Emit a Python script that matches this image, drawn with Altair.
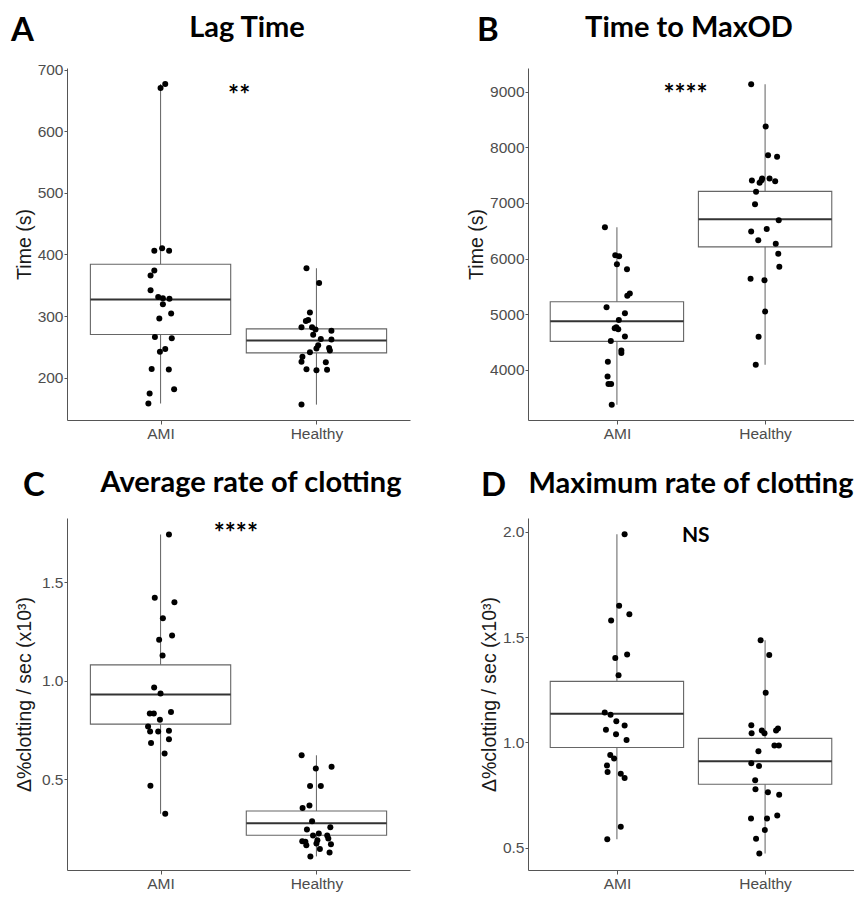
import altair as alt
import pandas as pd

GROUPS = ["AMI", "Healthy"]

# ---------------- Panel A : Lag Time (s) ----------------
A_AMI = [670.6, 677, 406, 410, 406, 374, 366, 342, 331, 329, 328, 319, 296, 304,
         266, 264, 242, 246.5, 214, 213, 174, 181, 158]
A_AMI_JIT = [0.0, 0.03, -0.04, 0.01, 0.055, -0.04, -0.064, -0.064, -0.015, 0.015, 0.057,
             0.015, -0.008, 0.068, -0.036, 0.072, -0.004, 0.03, -0.057, 0.053, -0.07, 0.087, -0.078]
A_HEA = [377.6, 353.5, 305.8, 293.5, 292, 281.8, 281.8, 278, 275.9, 269.4, 262.5, 262,
         252.4, 247, 248, 243.8, 241, 233.7, 225.6, 225, 213.3, 211.7, 212.8, 156]
A_HEA_JIT = [-0.064, 0.017, -0.042, -0.053, -0.068, -0.096, -0.028, -0.006, 0.096, -0.021,
             0.028, 0.096, 0.011, 0.0, 0.081, 0.086, -0.042, -0.09, -0.096, 0.06, -0.064,
             0.0, 0.068, -0.096]
A_Q1 = [270, 240]
A_MED = [327, 260]
A_Q3 = [384, 279]

# ---------------- Panel B : Time to MaxOD (s) ----------------
B_AMI = [6565, 6057, 6039, 5897, 5809, 5371, 5330, 5123, 5017, 4892, 4762, 4745, 4727,
         4597, 4514, 4343, 4301, 4142, 3876, 3740, 3740, 3368]
B_AMI_JIT = [-0.081, -0.011, 0.015, 0.0, 0.068, 0.087, 0.07, -0.07, 0.054, 0.013, -0.004,
             -0.015, 0.009, 0.054, -0.041, 0.03, 0.03, -0.061, -0.063, -0.057, -0.039, -0.035]
B_HEA = [9136, 8379, 7859, 7830, 7404, 7363, 7410, 7440, 7440, 7392, 7203, 6979, 6689,
         6488, 6530, 6329, 6264, 6086, 5850, 5637, 5608, 5046, 4591, 4089]
B_HEA_JIT = [-0.094, 0.004, 0.02, 0.081, -0.089, -0.037, -0.024, -0.02, 0.03, 0.068, -0.061,
             -0.068, 0.092, -0.094, 0.011, -0.046, 0.072, 0.089, 0.096, -0.098, -0.004, 0.0,
             -0.044, -0.063]
B_Q1 = [4508, 6210]
B_MED = [4869, 6707]
B_Q3 = [5223, 7209]

# ---------------- Panel C : Average rate of clotting ----------------
C_AMI = [1.742, 1.421, 1.398, 1.317, 1.230, 1.208, 1.128, 0.966, 0.935, 0.834, 0.834,
         0.842, 0.802, 0.768, 0.743, 0.743, 0.747, 0.703, 0.685, 0.631, 0.468, 0.326]
C_AMI_JIT = [0.054, -0.037, 0.089, 0.015, 0.074, -0.009, 0.013, -0.041, 0.0, -0.069, -0.043,
             0.067, -0.004, -0.08, -0.067, -0.015, 0.054, 0.054, -0.061, 0.026, -0.065, 0.03]
C_HEA = [0.622, 0.555, 0.564, 0.466, 0.466, 0.367, 0.354, 0.287, 0.257, 0.245, 0.225,
         0.215, 0.215, 0.186, 0.183, 0.191, 0.200, 0.166, 0.174, 0.171, 0.146, 0.129, 0.109]
C_HEA_JIT = [-0.095, -0.004, 0.097, -0.041, 0.028, -0.045, -0.089, -0.028, 0.089, -0.061,
             0.015, -0.022, 0.069, -0.091, -0.071, 0.006, 0.076, -0.065, 0.0, 0.093, 0.022,
             0.084, -0.039]
C_Q1 = [0.780, 0.216]
C_MED = [0.930, 0.277]
C_Q3 = [1.081, 0.339]

# ---------------- Panel D : Maximum rate of clotting ----------------
D_AMI = [1.989, 1.649, 1.609, 1.579, 1.418, 1.401, 1.319, 1.142, 1.131, 1.100, 1.080,
         1.060, 1.039, 1.011, 0.940, 0.924, 0.890, 0.860, 0.851, 0.831, 0.600, 0.540]
D_AMI_JIT = [0.052, 0.015, 0.084, -0.039, 0.069, -0.011, 0.011, -0.082, -0.043, -0.004,
             0.052, -0.074, -0.006, 0.065, -0.045, -0.019, -0.067, -0.063, 0.026, 0.052,
             0.026, -0.065]
D_HEA = [1.485, 1.415, 1.236, 1.082, 1.043, 1.057, 1.043, 1.057, 1.066, 0.985, 0.985,
         0.958, 0.901, 0.888, 0.820, 0.777, 0.763, 0.751, 0.639, 0.639, 0.653, 0.584,
         0.542, 0.472]
D_HEA_JIT = [-0.03, 0.028, 0.004, -0.093, -0.091, -0.022, -0.004, 0.074, 0.087, 0.063,
             0.093, -0.045, -0.093, -0.041, -0.067, -0.065, 0.019, 0.095, -0.095, 0.013,
             0.082, -0.002, -0.061, -0.039]
D_Q1 = [0.976, 0.801]
D_MED = [1.136, 0.910]
D_Q3 = [1.290, 1.019]

TITLES = ["Lag Time", "Time to MaxOD", "Average rate of clotting", "Maximum rate of clotting"]
LETTERS = ["A", "B", "C", "D"]
Y_TITLES = ["Time (s)", "Time (s)", "Δ%clotting / sec (x10³)", "Δ%clotting / sec (x10³)"]
SIGNIF = ["**", "****", "****", "NS"]

TITLE_FONT = "Lato"
AXIS_FONT = "Liberation Sans"
BOX_HALF = 0.45

label_expr = f"datum.value == 1 ? '{GROUPS[0]}' : '{GROUPS[1]}'"


def make_panel(ami, ami_j, hea, hea_j, q1, med, q3, ydom, yticks, yfmt, ytitle,
               tpad, letter, letter_pos, title, title_pos, sig, sig_pos, sig_size,
               w, h):
    pts = pd.DataFrame({
        "g": [1] * len(ami) + [2] * len(hea),
        "v": ami + hea,
        "j": ami_j + hea_j,
    })
    pts["x"] = pts["g"] + pts["j"]
    box = pd.DataFrame({
        "g": [1, 2],
        "q1": q1, "med": med, "q3": q3,
        "lo": [min(ami), min(hea)], "hi": [max(ami), max(hea)],
    })
    box["x1"] = box["g"] - BOX_HALF
    box["x2"] = box["g"] + BOX_HALF

    xs = alt.Scale(domain=[0.4, 2.6], nice=False, zero=False)
    ys = alt.Scale(domain=ydom, nice=False, zero=False)
    xa = alt.Axis(values=[1, 2], labelExpr=label_expr, title=None, grid=False,
                  tickSize=4, labelPadding=2)
    ya = alt.Axis(values=yticks, format=yfmt, title=ytitle, grid=False,
                  tickSize=3, labelPadding=1, titlePadding=tpad)

    whisk = alt.Chart(box).mark_rule(color="#6e6e6e", strokeWidth=1.1).encode(
        x=alt.X("g:Q", scale=xs, axis=xa),
        y=alt.Y("lo:Q", scale=ys, axis=ya),
        y2="hi:Q",
    )
    rect = alt.Chart(box).mark_rect(fill="white", stroke="#666666", strokeWidth=1.1).encode(
        x=alt.X("x1:Q", scale=xs, axis=xa), x2="x2:Q",
        y=alt.Y("q1:Q", scale=ys, axis=ya), y2="q3:Q",
    )
    medl = alt.Chart(box).mark_rule(color="#333333", strokeWidth=2).encode(
        x=alt.X("x1:Q", scale=xs, axis=xa), x2="x2:Q",
        y=alt.Y("med:Q", scale=ys, axis=ya),
    )
    dots = alt.Chart(pts).mark_circle(color="black", size=36, opacity=1).encode(
        x=alt.X("x:Q", scale=xs, axis=xa),
        y=alt.Y("v:Q", scale=ys, axis=ya),
    )
    sigt = alt.Chart(pd.DataFrame({"x": [sig_pos[0]], "y": [sig_pos[1]], "t": [sig]})).mark_text(
        font=TITLE_FONT, fontWeight="bold", fontSize=sig_size, align="center",
        baseline="alphabetic", color="black",
    ).encode(x=alt.X("x:Q", scale=xs, axis=xa), y=alt.Y("y:Q", scale=ys, axis=ya), text="t:N")
    lett = alt.Chart(pd.DataFrame({"t": [letter]})).mark_text(
        font=TITLE_FONT, fontWeight="bold", fontSize=33, align="left",
        baseline="alphabetic", color="black",
    ).encode(x=alt.value(letter_pos[0]), y=alt.value(letter_pos[1]), text="t:N")
    titt = alt.Chart(pd.DataFrame({"t": [title]})).mark_text(
        font=TITLE_FONT, fontWeight="bold", fontSize=29, align="center",
        baseline="alphabetic", color="black",
    ).encode(x=alt.value(title_pos[0]), y=alt.value(title_pos[1]), text="t:N")

    return alt.layer(whisk, rect, medl, dots, sigt, lett, titt).properties(width=w, height=h)


W1, W2, H = 343, 326, 352

pA = make_panel(A_AMI, A_AMI_JIT, A_HEA, A_HEA_JIT, A_Q1, A_MED, A_Q3,
                [131, 703], [200, 300, 400, 500, 600, 700], "d", Y_TITLES[0], 3,
                LETTERS[0], (-56, -27), TITLES[0], (180, -31), SIGNIF[0], (1.504, 645), 26,
                W1, H)
pB = make_panel(B_AMI, B_AMI_JIT, B_HEA, B_HEA_JIT, B_Q1, B_MED, B_Q3,
                [3093, 9430], [4000, 5000, 6000, 7000, 8000, 9000], "d", Y_TITLES[1], 3,
                LETTERS[1], (-51, -27), TITLES[1], (161, -31), SIGNIF[1], (1.463, 8794), 26,
                W2, H)
pC = make_panel(C_AMI, C_AMI_JIT, C_HEA, C_HEA_JIT, C_Q1, C_MED, C_Q3,
                [0.04, 1.826], [0.5, 1.0, 1.5], ".1f", Y_TITLES[2], 7,
                LETTERS[2], (-44, -22), TITLES[2], (184, -26), SIGNIF[2], (1.483, 1.703), 26,
                W1, H)
pD = make_panel(D_AMI, D_AMI_JIT, D_HEA, D_HEA_JIT, D_Q1, D_MED, D_Q3,
                [0.394, 2.066], [0.5, 1.0, 1.5, 2.0], ".1f", Y_TITLES[3], 3,
                LETTERS[3], (-47, -22), TITLES[3], (163, -25), SIGNIF[3], (1.532, 1.953), 21,
                W2, H)

chart = alt.concat(pA, pB, pC, pD, columns=2, spacing={"row": 98, "column": 118},
                   bounds="flush").properties(
    padding={"left": 3, "right": 0, "top": 6, "bottom": 0}
).configure_view(stroke=None).configure_axis(
    domainColor="#555555", tickColor="#555555", domainWidth=1, tickWidth=1,
    labelColor="#4d4d4d", labelFont=AXIS_FONT, labelFontSize=15.5,
    titleColor="#1a1a1a", titleFont=AXIS_FONT, titleFontSize=19.5, titleFontWeight="normal",
)

chart.save("out.html", embed_options={"renderer": "svg", "actions": False})
